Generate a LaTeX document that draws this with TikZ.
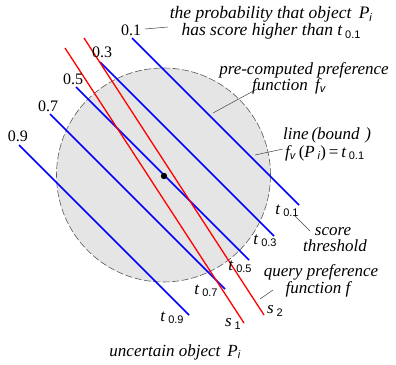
\documentclass[tikz,border=0pt]{standalone}
\usepackage{fontspec}
\setmainfont{Liberation Serif}
\setsansfont{Liberation Sans}
\newcommand\sbx[1]{{\upshape\fontsize{11}{11}\sffamily #1}}
\newcommand\tsub[1]{\textit{t}\,\lower2.5pt\hbox{\sbx{#1}}}
\begin{document}
\begin{tikzpicture}[x=1pt,y=-1pt,
  bline/.style={blue,line width=1.5pt},
  rline/.style={red,line width=1.3pt},
  lead/.style={black!75,line width=0.5pt},
  num/.style={font=\fontsize{16}{16}\selectfont,inner sep=0pt},
  lab/.style={font=\fontsize{17}{17}\selectfont\itshape,inner sep=0pt},
  tl/.style={font=\fontsize{17}{17}\selectfont,inner sep=0pt}]
\useasboundingbox (0,0) rectangle (396,364);
% circle
\node[circle,minimum size=214pt,inner sep=0pt,fill=black!10,draw=black!65,dash pattern=on 7pt off 2.5pt,line width=0.6pt] (circ) at (163.5,175) {};
% blue lines
\coordinate (a1) at (132,38);  \coordinate (b1) at (299,205);
\coordinate (a3) at (100,62);  \coordinate (b3) at (274,236);
\coordinate (a5) at (76,87);   \coordinate (b5) at (249,260);
\coordinate (a7) at (50,114);  \coordinate (b7) at (225,289);
\coordinate (a9) at (19,145);  \coordinate (b9) at (189,315);
\foreach \i in {1,3,5,7,9} {\draw[bline] (a\i) -- (b\i);}
% red lines
\coordinate (r1a) at (65,48);  \coordinate (r1b) at (244,323);
\coordinate (r2a) at (84,38);  \coordinate (r2b) at (264,315);
\draw[rline] (r1a) -- (r1b);
\draw[rline] (r2a) -- (r2b);
% dot
\fill (164,176) circle (3.2pt) node (dot) {};
% numbers
\node[num] (n1) at (131,30) {0.1};
\node[num] (n3) at (102,52) {0.3};
\node[num] (n5) at (73,79) {0.5};
\node[num] (n7) at (48,106) {0.7};
\node[num] (n9) at (18,136) {0.9};
% t labels
\node[tl] (t1) at (287,211) {\tsub{0.1}};
\node[tl] (t3) at (265,241) {\tsub{0.3}};
\node[tl] (t5) at (240,267) {\tsub{0.5}};
\node[tl] (t7) at (206,291) {\tsub{0.7}};
\node[tl] (t9) at (172,318) {\tsub{0.9}};
% s labels
\node[tl] (s1) at (233,324) {\textit{s}\,\lower2.5pt\hbox{\sbx{1}}};
\node[tl] (s2) at (275,311) {\textit{s}\,\lower2.5pt\hbox{\sbx{2}}};
% texts
\node[lab,align=center,font=\fontsize{17.5}{14}\selectfont\itshape] (prob) at (271,23) {the probability that object \,\textit{P}\lower2.5pt\hbox{\sbx{\textit{i}}}\\has score higher than \tsub{0.1}};
\node[lab] (pre1) at (304,70) {pre-computed preference};
\node[lab] (pre2) at (289,86) {function \,\textit{f}\lower2.5pt\hbox{\sbx{\textit{v}}}};
\node[lab,anchor=west] (lin1) at (283,135) {line\,(bound\,\,)};
\node[lab,anchor=west] (lin2) at (285,153) {\textit{f}\lower2.5pt\hbox{\sbx{\textit{v}}}\,\textup{(}\textit{P}\,\lower2.5pt\hbox{\sbx{\textit{i}}}\textup{)\,=\,}\tsub{0.1}};
\node[lab] (sc1) at (333,232) {score};
\node[lab] (sc2) at (335,246) {threshold};
\node[lab] (q1) at (321,272) {query preference};
\node[lab] (q2) at (318,289) {function \textit{f}};
\node[lab] (unc) at (175,352) {uncertain object \,\textit{P}\lower2.5pt\hbox{\sbx{\textit{i}}}};
% leaders
\coordinate (l1a) at (145,29); \coordinate (l1b) at (168,27);
\draw[lead] (l1a) -- (l1b);
\coordinate (l2a) at (257,89); \coordinate (l2b) at (213,113);
\draw[lead] (l2a) -- (l2b);
\coordinate (l3a) at (255,155); \coordinate (l3b) at (283,149);
\draw[lead] (l3a) -- (l3b);
\coordinate (l4a) at (295,216); \coordinate (l4b) at (310,231);
\draw[lead] (l4a) -- (l4b);
\coordinate (l5a) at (273,290); \coordinate (l5b) at (260,299);
\draw[lead] (l5a) -- (l5b);
\end{tikzpicture}
\end{document}
